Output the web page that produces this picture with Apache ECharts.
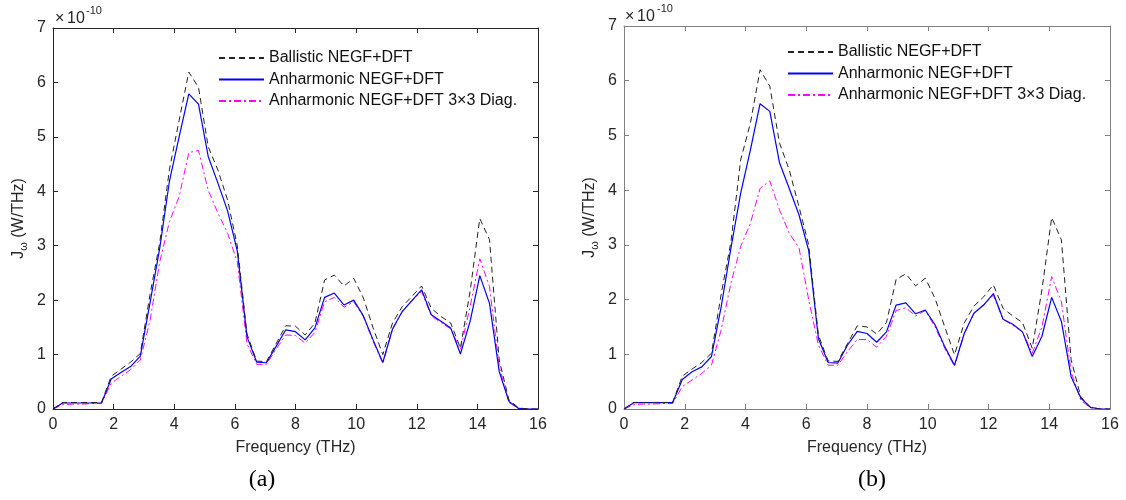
<!DOCTYPE html>
<html>
<head>
<meta charset="utf-8">
<script src="https://cdn.jsdelivr.net/npm/echarts@6/dist/echarts.min.js"></script>
<style>
html,body{margin:0;padding:0;background:#fff;}
#chart{width:1126px;height:500px;}
</style>
</head>
<body>
<div id="chart"></div>
<script>
// Frequency (THz)
var freq = [0,0.32,0.64,0.96,1.28,1.6,1.92,2.24,2.56,2.88,3.2,3.52,3.84,4.16,4.48,4.8,5.12,5.44,5.76,6.08,6.4,6.72,7.04,7.36,7.68,8.0,8.32,8.64,8.96,9.28,9.6,9.92,10.24,10.56,10.88,11.2,11.52,11.84,12.16,12.48,12.8,13.12,13.44,13.76,14.08,14.4,14.72,15.04,15.36,15.68,16];

// Panel (a), values in units of 1e-10 W/THz
var aBallistic = [0,0.12,0.12,0.12,0.12,0.12,0.60,0.73,0.86,1.02,2.10,3.05,4.40,5.30,6.19,5.91,4.82,4.39,3.84,3.00,1.38,0.88,0.87,1.20,1.53,1.52,1.36,1.58,2.37,2.46,2.26,2.40,2.04,1.49,1.00,1.58,1.88,2.07,2.26,1.85,1.70,1.58,1.12,2.16,3.50,3.11,0.90,0.17,0.02,0,0];
var aAnharm = [0,0.11,0.11,0.11,0.11,0.11,0.55,0.67,0.78,0.97,1.95,2.95,4.18,5.00,5.79,5.60,4.64,4.15,3.64,2.90,1.33,0.86,0.85,1.15,1.455,1.42,1.27,1.49,2.05,2.13,1.91,2.00,1.71,1.27,0.855,1.47,1.79,1.99,2.19,1.73,1.61,1.49,1.01,1.61,2.45,1.94,0.69,0.14,0.01,0,0];
var aDiag = [0,0.08,0.09,0.09,0.10,0.10,0.47,0.60,0.72,0.90,1.62,2.70,3.44,3.90,4.71,4.75,4.02,3.60,3.23,2.70,1.20,0.82,0.82,1.10,1.36,1.35,1.21,1.41,1.97,2.05,1.87,1.97,1.70,1.24,0.84,1.46,1.79,1.99,2.16,1.71,1.59,1.47,1.09,1.88,2.76,2.25,0.78,0.12,0.01,0,0];

// Panel (b)
var bBallistic = [0,0.12,0.12,0.12,0.12,0.12,0.60,0.73,0.85,1.02,2.10,3.05,4.55,5.22,6.20,5.90,4.86,4.37,3.70,3.00,1.35,0.88,0.87,1.20,1.52,1.50,1.37,1.58,2.37,2.47,2.25,2.39,2.02,1.50,0.99,1.57,1.88,2.05,2.27,1.84,1.70,1.58,1.11,2.18,3.50,3.09,0.90,0.22,0.03,0,0];
var bAnharm = [0,0.115,0.115,0.115,0.115,0.115,0.54,0.68,0.77,0.96,1.87,2.94,3.94,4.73,5.58,5.44,4.50,4.03,3.55,2.90,1.29,0.85,0.84,1.17,1.42,1.38,1.22,1.41,1.90,1.94,1.74,1.81,1.54,1.14,0.80,1.38,1.75,1.90,2.11,1.64,1.55,1.41,0.96,1.33,2.04,1.60,0.59,0.20,0.03,0,0];
var bDiag = [0,0.08,0.09,0.09,0.10,0.10,0.41,0.53,0.65,0.80,1.45,2.30,2.97,3.39,4.03,4.17,3.64,3.21,2.95,2.00,1.17,0.80,0.80,1.05,1.27,1.27,1.13,1.33,1.80,1.85,1.70,1.80,1.50,1.11,0.78,1.37,1.75,1.91,2.08,1.64,1.53,1.41,1.02,1.50,2.42,1.96,0.68,0.16,0.02,0,0];

var seriesNames = ['Ballistic NEGF+DFT', 'Anharmonic NEGF+DFT', 'Anharmonic NEGF+DFT 3\u00D73 Diag.'];
var xTicks = {min: 0, max: 16, interval: 2};
var yTicks = {min: 0, max: 7, interval: 1};
var panelLabels = ['(a)', '(b)'];

function pairs(vals){ return freq.map(function(f,i){ return [f, vals[i]]; }); }

var FONT = '"Liberation Sans", Arial, sans-serif';
var TXT = '#262626';

var grids = [
  {left: 53, top: 28, width: 485, height: 381},
  {left: 624, top: 26, width: 486, height: 383}
];
var axisColors = ['#262626', '#808080'];

var xAxes = [], yAxes = [], series = [], legends = [];
[0,1].forEach(function(g){
  var ac = axisColors[g];
  xAxes.push({
    type: 'value', gridIndex: g, position: 'bottom', min: xTicks.min, max: xTicks.max, interval: xTicks.interval,
    axisLine: {show: true, onZero: false, lineStyle: {color: ac, width: 1}},
    axisTick: {show: true, inside: true, length: 5, lineStyle: {color: ac}},
    axisLabel: {color: TXT, fontSize: 16, fontFamily: FONT, margin: 8},
    splitLine: {show: false},
    name: 'Frequency (THz)', nameLocation: 'middle', nameGap: 31,
    nameTextStyle: {color: TXT, fontSize: 16, fontFamily: FONT}
  });
  xAxes.push({
    type: 'value', gridIndex: g, position: 'top', min: xTicks.min, max: xTicks.max, interval: xTicks.interval,
    axisLine: {show: true, onZero: false, lineStyle: {color: ac, width: 1}},
    axisTick: {show: true, inside: true, length: 5, lineStyle: {color: ac}},
    axisLabel: {show: false}, splitLine: {show: false}
  });
  yAxes.push({
    type: 'value', gridIndex: g, position: 'left', min: yTicks.min, max: yTicks.max, interval: yTicks.interval,
    axisLine: {show: true, onZero: false, lineStyle: {color: ac, width: 1}},
    axisTick: {show: true, inside: true, length: 5, lineStyle: {color: ac}},
    axisLabel: {color: TXT, fontSize: 16, fontFamily: FONT, margin: 7},
    splitLine: {show: false},
    name: '{m|J}{s|\u03C9}{m| (W/THz)}', nameLocation: 'middle', nameGap: 24, nameRotate: 90,
    nameTextStyle: {color: TXT, fontSize: 16, fontFamily: FONT, rich: {
      m: {fontSize: 16, fontFamily: FONT, color: TXT, lineHeight: 20},
      s: {fontSize: 11, fontFamily: FONT, color: TXT, padding: [10, 0, 0, 0], lineHeight: 20}
    }}
  });
  yAxes.push({
    type: 'value', gridIndex: g, position: 'right', min: yTicks.min, max: yTicks.max, interval: yTicks.interval,
    axisLine: {show: true, onZero: false, lineStyle: {color: ac, width: 1}},
    axisTick: {show: true, inside: true, length: 5, lineStyle: {color: ac}},
    axisLabel: {show: false}, splitLine: {show: false}
  });
});

var styles = [
  {color: '#222222', width: 1, type: [6, 4]},
  {color: '#0000ff', width: 1.2, type: 'solid'},
  {color: '#ff00ff', width: 1, type: [7, 3, 2, 3]}
];
var panelData = [[aBallistic, aAnharm, aDiag], [bBallistic, bAnharm, bDiag]];
[0,1].forEach(function(g){
  panelData[g].forEach(function(vals, k){
    series.push({
      type: 'line', name: seriesNames[k], xAxisIndex: g*2, yAxisIndex: g*2,
      data: pairs(vals), symbol: 'none', showSymbol: false, animation: false,
      lineStyle: styles[k], itemStyle: {color: styles[k].color}, z: 10 - k
    });
  });
});

var legendPos = [{left: 218, top: 50}, {left: 787, top: 44}];
legendPos.forEach(function(p){
  legends.push({
    orient: 'vertical', left: p.left, top: p.top, itemWidth: 45, itemHeight: 14, itemGap: 5.5, padding: 0,
    data: seriesNames, selectedMode: false,
    itemStyle: {opacity: 0, borderWidth: 0},
    textStyle: {color: '#111', fontSize: 16, fontFamily: FONT}
  });
});

var graphics = [];
[[55, 67, 20, 86, 11], [625, 637, 18, 657, 9]].forEach(function(p){
  graphics.push({type: 'text', left: p[0], top: p[2] - 9, style: {text: '\u00D7', fontSize: 16, fontFamily: FONT, fill: TXT}});
  graphics.push({type: 'text', left: p[1], top: p[2] - 9, style: {text: '10', fontSize: 16, fontFamily: FONT, fill: TXT}});
  graphics.push({type: 'text', left: p[3], top: p[4] - 6, style: {text: '-10', fontSize: 11, fontFamily: FONT, fill: TXT}});
});
[[262, 480], [872, 480]].forEach(function(p, i){
  graphics.push({type: 'text', x: p[0], y: p[1], style: {text: panelLabels[i], fontSize: 24, fontFamily: '"Liberation Serif", "Times New Roman", serif', fill: '#000', align: 'center', verticalAlign: 'middle'}});
});

var chart = echarts.init(document.getElementById('chart'), null, {renderer: 'canvas'});
chart.setOption({
  backgroundColor: '#ffffff',
  animation: false,
  grid: grids,
  xAxis: xAxes,
  yAxis: yAxes,
  legend: legends,
  series: series,
  graphic: graphics
});
</script>
</body>
</html>
